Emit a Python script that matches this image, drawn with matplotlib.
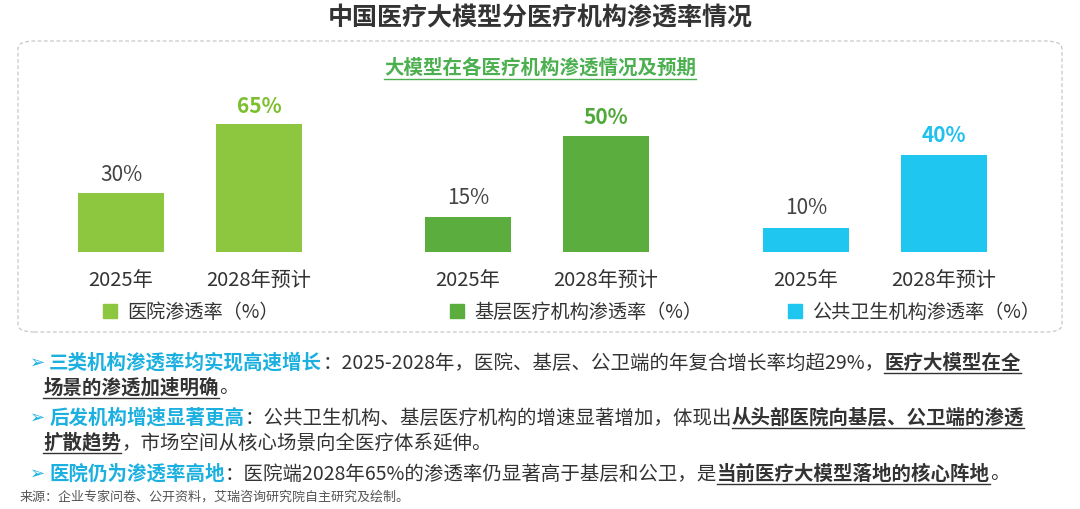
import matplotlib
matplotlib.use("Agg")
import matplotlib.pyplot as plt
from matplotlib.patches import FancyBboxPatch, Rectangle
from matplotlib.lines import Line2D

plt.rcParams["font.family"] = ["Noto Sans CJK SC", "DejaVu Sans"]

W, H = 1080, 510
categories = ["2025年", "2028年预计"]
panel_names = ["医院渗透率（%）", "基层医疗机构渗透率（%）", "公共卫生机构渗透率（%）"]
panel_values = [[30, 65], [15, 50], [10, 40]]
panel_colors = ["#8DC63F", "#5BAE3E", "#1EC6F0"]
panel_label_colors = ["#7CBF2E", "#4FA83A", "#1EC0EE"]
panel_centers = [121, 468, 806]   # left bar centre, px
panel_scale = [1.97, 2.32, 2.43]  # px per percentage point

CYAN = "#1BB0E0"
DARK = "#333333"

fig = plt.figure(figsize=(W / 100, H / 100), dpi=100)


def fx(x):
    return x / W


def fy(y):
    return 1 - y / H


fig.text(0.5, fy(18), "中国医疗大模型分医疗机构渗透率情况", ha="center", va="center",
         fontsize=18, fontweight="bold", color=DARK)

box = FancyBboxPatch((fx(18), fy(333)), fx(1044), (333 - 42) / H,
                     boxstyle="round,pad=0,rounding_size=0.015", transform=fig.transFigure,
                     fill=False, ec="#C8C8C8", lw=0.9, ls=(0, (3, 2)))
fig.add_artist(box)
sub = fig.text(0.5, fy(68), "大模型在各医疗机构渗透情况及预期", ha="center", va="center",
               fontsize=14, fontweight="bold", style="italic", color="#4CAF50")
fig.canvas.draw()
bb = sub.get_window_extent()
fig.add_artist(Line2D([bb.x0 / W, bb.x1 / W], [fy(80)] * 2, transform=fig.transFigure,
                      color="#4CAF50", lw=1))

for i in range(3):
    c0 = panel_centers[i]
    spacing = 138
    left = c0 - spacing / 2
    h_px = 150
    ax = fig.add_axes([fx(left), fy(253), fx(2 * spacing), h_px / H])
    ax.set_xlim(-0.5, 1.5)
    ax.set_ylim(0, h_px / panel_scale[i])
    vals = panel_values[i]
    ax.bar([0, 1], vals, width=0.63, color=panel_colors[i])
    ax.text(0, vals[0] + 4, f"{vals[0]}%", ha="center", va="bottom", fontsize=15, color="#444444")
    ax.text(1, vals[1] + 4, f"{vals[1]}%", ha="center", va="bottom", fontsize=15,
            fontweight="bold", color=panel_label_colors[i])
    ax.set_xticks([0, 1], categories, fontsize=14.5, color=DARK)
    ax.tick_params(length=0, pad=12)
    ax.set_yticks([])
    for s in ax.spines.values():
        s.set_visible(False)
    # legend
    lx = c0 - 18
    fig.add_artist(Rectangle((fx(lx), fy(319)), fx(14), 14 / H, transform=fig.transFigure,
                             color=panel_colors[i]))
    fig.text(fx(lx + 24), fy(312), panel_names[i], ha="left", va="center", fontsize=13.8, color=DARK)

# bullet lines: list of runs (text, style)
lines = [
    (363, [("➢ ", "arrow"), ("三类机构渗透率均实现高速增长", "key"),
           ("：2025-2028年，医院、基层、公卫端的年复合增长率均超29%，", "norm"),
           ("医疗大模型在全", "emph")]),
    (388, [("   ", "norm"), ("场景的渗透加速明确", "emph"), ("。", "norm")]),
    (418, [("➢ ", "arrow"), ("后发机构增速显著更高", "key"),
           ("：公共卫生机构、基层医疗机构的增速显著增加，体现出", "norm"),
           ("从头部医院向基层、公卫端的渗透", "emph")]),
    (443, [("   ", "norm"), ("扩散趋势", "emph"), ("，市场空间从核心场景向全医疗体系延伸。", "norm")]),
    (474, [("➢ ", "arrow"), ("医院仍为渗透率高地", "key"),
           ("：医院端2028年65%的渗透率仍显著高于基层和公卫，是", "norm"),
           ("当前医疗大模型落地的核心阵地", "emph"), ("。", "norm")]),
]
r = fig.canvas.get_renderer()
for y, runs in lines:
    x = 30
    for txt, kind in runs:
        kw = dict(fontsize=14, color=DARK, va="center", ha="left")
        if kind == "arrow":
            kw.update(color=CYAN, fontsize=13)
        elif kind == "key":
            kw.update(color=CYAN, fontweight="bold")
        elif kind == "emph":
            kw.update(fontweight="bold", style="italic")
        t = fig.text(fx(x), fy(y), txt, **kw)
        e = t.get_window_extent(renderer=r)
        if kind == "emph":
            fig.add_artist(Line2D([e.x0 / W, e.x1 / W], [fy(y + 11)] * 2,
                                  transform=fig.transFigure, color=DARK, lw=1))
        x += e.width

fig.text(fx(20), fy(497), "来源：企业专家问卷、公开资料，艾瑞咨询研究院自主研究及绘制。",
         ha="left", va="center", fontsize=9.4, color="#555555")

fig.savefig("out.png", dpi=100)
